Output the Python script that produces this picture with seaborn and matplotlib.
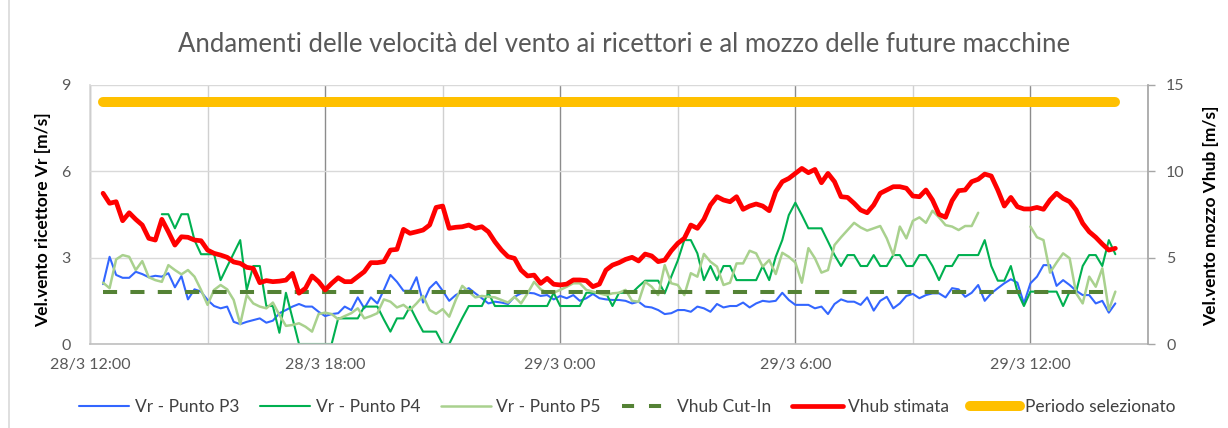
import numpy as np
import pandas as pd
import matplotlib
matplotlib.use("Agg")
import matplotlib.pyplot as plt
import matplotlib.dates as mdates
from matplotlib.lines import Line2D
from matplotlib.ticker import FuncFormatter
import seaborn as sns

# ---------------- data (10-minute samples from 28/3 12:20) ----------------
start_time = "2021-03-28 12:20"
step = "10min"
nan = np.nan

vr_p3 = [2.08, 3.03, 2.40, 2.30, 2.30, 2.51, 2.43, 2.32, 2.37, 2.34,
         2.46, 1.97, 2.36, 1.55, 1.90, 1.82, 1.53, 1.32, 1.24, 1.30,
         0.77, 0.69, 0.77, 0.83, 0.89, 0.74, 0.81, 1.07, 1.18, 1.30,
         1.39, 1.30, 1.30, 1.12, 0.97, 1.04, 1.07, 1.30, 1.18, 1.62,
         1.24, 1.62, 1.41, 1.88, 2.40, 2.16, 1.85, 1.85, 2.32, 1.44,
         1.94, 2.16, 1.85, 1.50, 1.70, 1.82, 1.94, 1.76, 1.59, 1.41,
         1.47, 1.44, 1.39, 1.64, 1.76, 1.78, 1.76, 1.67, 1.70, 1.55,
         1.67, 1.59, 1.70, 1.50, 1.59, 1.74, 1.59, 1.55, 1.53, 1.53,
         1.50, 1.41, 1.47, 1.30, 1.27, 1.18, 1.04, 1.07, 1.18, 1.18,
         1.12, 1.30, 1.24, 1.12, 1.39, 1.27, 1.32, 1.32, 1.44, 1.27,
         1.41, 1.50, 1.47, 1.50, 1.78, 1.53, 1.36, 1.36, 1.36, 1.24,
         1.30, 1.04, 1.39, 1.55, 1.47, 1.47, 1.36, 1.62, 1.16, 1.50,
         1.64, 1.24, 1.41, 1.67, 1.74, 1.59, 1.70, 1.76, 1.76, 1.62,
         1.94, 1.90, 1.64, 1.78, 2.05, 1.50, 1.76, 1.94, 2.11, 2.25,
         2.13, 1.41, 2.11, 2.34, 2.74, 2.74, 2.02, 2.22, 2.05, 1.85,
         1.70, 1.70, 1.41, 1.50, 1.09, 1.41]

vr_p4 = [nan, nan, nan, nan, nan, nan, nan, nan, nan, 4.51,
         4.51, 4.02, 4.51, 4.51, 3.61, 3.12, 3.12, 3.12, 2.22, 2.69,
         3.15, 3.61, 1.88, 2.71, 2.71, 1.32, 1.32, 0.39, 1.78, 0.90,
         0.00, 0.00, 0.00, 0.00, 0.00, 0.00, 0.89, 0.89, 0.89, 0.89,
         1.30, 1.30, 1.30, 0.85, 0.43, 0.89, 0.89, 1.30, 0.85, 0.43,
         0.43, 0.43, 0.00, 0.00, 0.45, 0.90, 1.32, 1.32, 1.32, 1.78,
         1.32, 1.32, 1.32, 1.32, 1.32, 1.32, 1.32, 1.32, 1.32, 1.78,
         1.32, 1.32, 1.32, 1.32, 1.78, 1.78, 1.78, 1.78, 1.32, 1.78,
         1.78, 1.78, 2.00, 2.20, 2.20, 2.20, 1.76, 2.34, 2.90, 3.61,
         3.61, 3.15, 2.22, 2.71, 2.22, 2.71, 2.71, 2.22, 2.22, 2.22,
         2.22, 2.71, 2.22, 3.03, 3.61, 4.48, 4.91, 4.48, 4.02, 4.02,
         4.02, 3.56, 3.09, 2.71, 3.09, 3.09, 2.71, 2.71, 3.09, 2.71,
         2.71, 3.09, 3.09, 2.71, 2.71, 3.09, 3.09, 2.71, 2.22, 2.71,
         2.71, 3.09, 3.09, 3.09, 3.09, 3.61, 2.71, 2.20, 2.20, 2.71,
         1.82, 1.32, 1.82, 1.82, 1.82, 1.82, 1.82, 1.32, 1.82, 1.82,
         2.71, 3.09, 3.09, 2.71, 3.61, 3.12]

vr_p5 = [2.13, 1.94, 2.94, 3.09, 3.03, 2.57, 2.88, 2.32, 2.22, 2.16,
         2.74, 2.57, 2.42, 2.57, 2.34, 1.88, 1.36, 1.88, 2.05, 1.90,
         1.53, 0.69, 1.70, 1.41, 1.30, 1.24, 1.44, 1.01, 0.63, 0.66,
         0.72, 0.60, 0.43, 1.04, 1.09, 1.04, 0.86, 0.97, 1.07, 1.24,
         0.89, 0.97, 1.07, 1.55, 1.47, 1.27, 1.36, 1.18, 1.41, 1.67,
         1.18, 1.05, 1.21, 0.95, 1.53, 2.02, 1.82, 1.62, 1.67, 1.64,
         1.62, 1.53, 1.44, 1.64, 1.41, 1.76, 2.16, 1.90, 1.78, 1.78,
         1.88, 1.99, 2.11, 2.11, 1.88, 1.82, 1.76, 1.70, 1.76, 1.78,
         1.88, 1.50, 1.47, 2.16, 1.99, 1.70, 2.74, 2.11, 2.05, 1.70,
         2.46, 2.34, 3.13, 2.86, 2.69, 2.05, 2.13, 2.80, 2.80, 3.24,
         3.15, 2.69, 2.92, 2.43, 3.17, 3.03, 2.83, 2.13, 3.33, 2.98,
         2.48, 2.57, 3.44, 3.71, 3.96, 4.21, 4.05, 3.94, 4.02, 4.10,
         3.67, 3.09, 4.08, 3.67, 4.28, 4.40, 4.21, 4.63, 4.40, 4.13,
         4.08, 3.96, 4.10, 4.10, 4.56, nan, nan, nan, nan, nan,
         nan, nan, 4.08, 3.71, 3.61, 2.48, 2.83, 3.15, 2.98, 1.76,
         1.41, 2.34, 1.99, 2.63, 1.18, 1.82]

vhub_stimata = [8.73, 8.15, 8.24, 7.14, 7.60, 7.22, 6.89, 6.12, 6.02, 7.22,
                6.50, 5.73, 6.21, 6.18, 6.02, 5.98, 5.44, 5.25, 5.15, 5.02,
                4.75, 4.67, 4.44, 4.38, 3.55, 3.67, 3.61, 3.64, 3.70, 4.09,
                2.94, 3.23, 3.94, 3.61, 3.13, 3.51, 3.84, 3.61, 3.61, 3.90,
                4.19, 4.71, 4.71, 4.77, 5.44, 5.48, 6.64, 6.41, 6.50, 6.60,
                6.89, 7.91, 7.99, 6.70, 6.76, 6.79, 6.89, 6.70, 6.79, 6.50,
                5.92, 5.44, 5.06, 4.96, 4.28, 3.94, 3.99, 3.51, 3.80, 3.46,
                3.42, 3.47, 3.71, 3.71, 3.67, 3.32, 3.47, 4.28, 4.57, 4.71,
                4.90, 5.02, 4.81, 5.21, 5.10, 4.77, 4.86, 5.40, 5.83, 6.12,
                6.89, 6.70, 7.22, 8.05, 8.53, 8.34, 8.24, 8.53, 7.80, 7.99,
                8.11, 7.99, 7.72, 8.82, 9.40, 9.59, 9.88, 10.17, 9.92, 10.11,
                9.34, 9.88, 9.40, 8.53, 8.49, 8.15, 7.76, 7.60, 8.05, 8.73,
                8.92, 9.11, 9.11, 9.02, 8.57, 8.53, 8.92, 8.34, 7.51, 7.34,
                8.30, 8.88, 8.92, 9.40, 9.54, 9.84, 9.73, 8.92, 7.99, 8.49,
                7.95, 7.82, 7.82, 7.91, 7.80, 8.34, 8.73, 8.43, 8.24, 7.76,
                6.99, 6.50, 6.18, 5.79, 5.44, 5.54]

vhub_cut_in = 3.0
periodo_selezionato = 14.0

series_labels = ["Vr - Punto P3", "Vr - Punto P4", "Vr - Punto P5",
                 "Vhub Cut-In", "Vhub stimata", "Periodo selezionato"]
title_text = "Andamenti delle velocità del vento ai ricettori e al mozzo delle future macchine"
left_label = "Vel.vento ricettore Vr [m/s]"
right_label = "Vel.vento mozzo Vhub [m/s]"
x_start, x_end = "2021-03-28 12:00", "2021-03-29 15:00"
left_ticks = [0, 3, 6, 9]
right_ticks = [0, 5, 10, 15]

# ---------------- build table ----------------
times = pd.date_range(start_time, periods=len(vhub_stimata), freq=step)
df = pd.DataFrame({
    "time": times,
    "P3": vr_p3,
    "P4": vr_p4,
    "P5": vr_p5,
    "stimata": vhub_stimata,
    "cutin": vhub_cut_in,
    "periodo": periodo_selezionato,
})
# segment ids so gaps in P5 are not bridged
df["p5_seg"] = df["P5"].isna().cumsum()

# ---------------- style ----------------
sns.set_theme(style="white")
plt.rcParams['font.family'] = ['Lato', 'DejaVu Sans']

C_P3 = "#3366FF"
C_P4 = "#00B050"
C_P5 = "#A9D18E"
C_CUT = "#548235"
C_RED = "#FF0000"
C_YEL = "#FFC000"
TXT = "#595959"

W, H = 1228, 428
fig = plt.figure(figsize=(W / 100, H / 100), dpi=100)
fig.patch.set_facecolor("white")
ax = fig.add_axes([90 / W, 1 - 344 / H, (1148 - 90) / W, (344 - 85) / H])
ax2 = ax.twinx()

# left axis series
sns.lineplot(data=df.dropna(subset=["P3"]), x="time", y="P3", ax=ax,
             color=C_P3, lw=1.5, estimator=None, legend=False)
sns.lineplot(data=df.dropna(subset=["P4"]), x="time", y="P4", ax=ax,
             color=C_P4, lw=1.5, estimator=None, legend=False)
sns.lineplot(data=df.dropna(subset=["P5"]), x="time", y="P5", ax=ax,
             units="p5_seg", estimator=None, color=C_P5, lw=1.8, legend=False)

# right axis series
sns.lineplot(data=df, x="time", y="cutin", ax=ax2, color=C_CUT, lw=2.9,
             estimator=None, legend=False)
ax2.lines[-1].set_dashes((3.5, 3.3))
sns.lineplot(data=df, x="time", y="stimata", ax=ax2, color=C_RED, lw=3.4,
             estimator=None, legend=False)
sns.lineplot(data=df, x="time", y="periodo", ax=ax2, color=C_YEL, lw=7.2,
             estimator=None, legend=False)
for ln in ax2.lines:
    ln.set_solid_capstyle("round")
    ln.set_solid_joinstyle("round")
ax2.lines[0].set_dash_capstyle("butt")

# axes limits / ticks
ax.set_xlim(pd.Timestamp(x_start), pd.Timestamp(x_end))
ax.set_ylim(0, 9)
ax.set_yticks(left_ticks)
ax2.set_ylim(0, 15)
ax2.set_yticks(right_ticks)

ax.xaxis.set_major_locator(mdates.HourLocator(byhour=[0, 6, 12, 18]))
ax.xaxis.set_minor_locator(mdates.HourLocator(byhour=[3, 9, 15, 21]))


def fmt_time(x, pos):
    d = mdates.num2date(x)
    return f"{d.day}/{d.month} {d.hour}:{d.minute:02d}"


ax.xaxis.set_major_formatter(FuncFormatter(fmt_time))

ax.grid(True, axis="y", color="#D9D9D9", lw=1.0)
ax.grid(True, axis="x", which="major", color="#8C8C8C", lw=1.0)
ax.grid(True, axis="x", which="minor", color="#D0D0D0", lw=1.0)
ax.set_axisbelow(True)
ax2.grid(False)

for s in ["top", "right"]:
    ax.spines[s].set_visible(False)
ax.spines["left"].set_color("#D9D9D9")
ax.spines["bottom"].set_color("#BFBFBF")
ax.spines["bottom"].set_linewidth(1.2)
for s in ["top", "left", "bottom"]:
    ax2.spines[s].set_visible(False)
ax2.spines["right"].set_color("#A6A6A6")

ax.tick_params(axis="both", which="both", length=0, labelsize=11.5, labelcolor=TXT)
ax.tick_params(axis="x", pad=10)
ax.tick_params(axis="y", pad=14)
ax2.tick_params(axis="y", which="both", length=5, width=1, color="#A6A6A6",
                direction="out", labelsize=11.5, labelcolor=TXT, pad=8)
ax2.tick_params(axis="x", length=0)

ax.set_xlabel("")
ax.set_ylabel(left_label, fontsize=12.5, fontweight="bold", color="black")
ax.yaxis.set_label_coords(-0.037, 0.48)
ax2.set_ylabel(right_label, fontsize=12.5, fontweight="bold", color="black", rotation=90)
ax2.yaxis.set_label_coords(1.052, 0.494)

fig.text(0.508, 1 - 45 / H, title_text, ha="center", va="center",
         fontsize=18.5, color=TXT)

# legend (proxy handles mirroring the line styles)
handles = [
    Line2D([], [], color=C_P3, lw=1.5),
    Line2D([], [], color=C_P4, lw=1.5),
    Line2D([], [], color=C_P5, lw=1.8),
    Line2D([], [], color=C_CUT, lw=2.9, dashes=(3.0, 3.7), dash_capstyle="butt"),
    Line2D([], [], color=C_RED, lw=3.4),
    Line2D([], [], color=C_YEL, lw=7.2, solid_capstyle="round"),
]
fig.legend(handles, series_labels, loc="center", bbox_to_anchor=(0.511, 1 - 407 / H),
           ncol=6, frameon=False, fontsize=12.5, handlelength=2.9,
           handletextpad=0.3, columnspacing=1.2, labelcolor="#404040")

# outer chart border on the left
fig.add_artist(Line2D([9 / W, 9 / W], [0, 1], transform=fig.transFigure,
                      color="#D9D9D9", lw=1.2))

fig.savefig("out.png", dpi=100, facecolor="white")
